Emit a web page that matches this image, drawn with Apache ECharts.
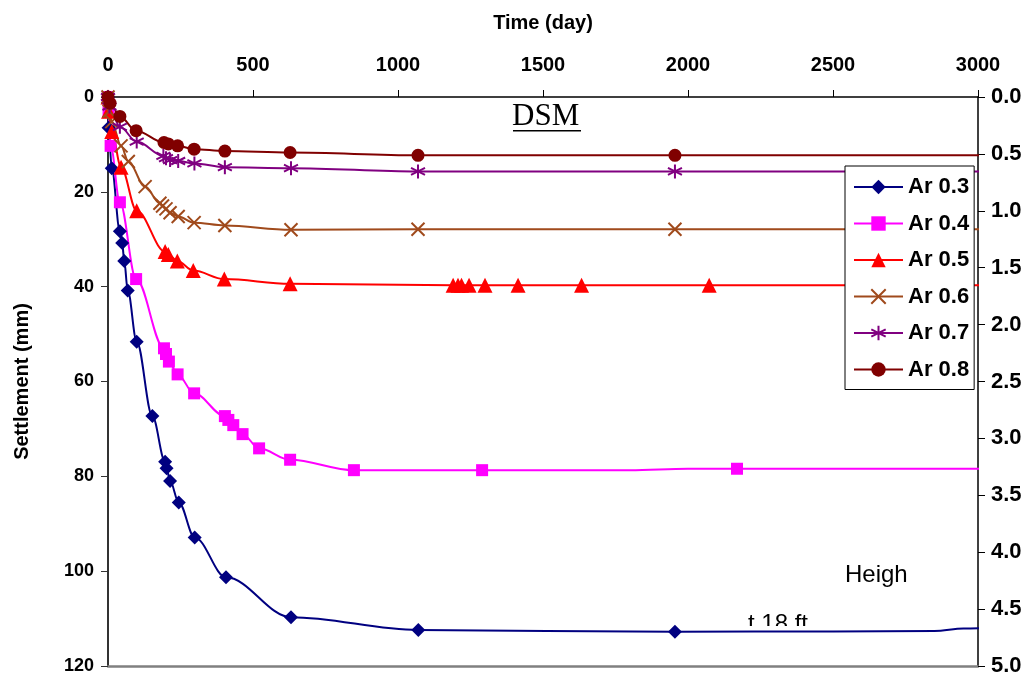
<!DOCTYPE html>
<html>
<head>
<meta charset="utf-8">
<script src="https://cdn.jsdelivr.net/npm/echarts@6/dist/echarts.min.js"></script>
<style>
  html, body { margin: 0; padding: 0; background: #fff; }
  #chart { width: 1033px; height: 681px; }
</style>
</head>
<body>
<div id="chart"></div>
<script>
// Settlement vs time for area replacement ratios Ar 0.3 – 0.8 (DSM columns)
// Measured points [day, settlement mm] – drawn with markers
const ar03 = [[0,0],[2,6.5],[13,15],[41,28.3],[49,30.8],[56,34.6],[68,40.8],[99,51.6],[153,67.3],[197,76.9],[202,78.3],[214,81],[244,85.5],[299,92.9],[407,101.3],[631,109.7],[1070,112.4],[1955,112.8]];
const ar04 = [[0,0],[2,3],[9,10.3],[41,22.2],[97,38.4],[193,53],[200,54.2],[210,55.8],[240,58.5],[297,62.5],[403,67.3],[415,68.1],[432,69.2],[464,71.1],[521,74.1],[628,76.5],[848,78.7],[1290,78.7],[2169,78.4]];
const ar05 = [[0,0],[2,3],[13,7.3],[45,14.8],[99,24],[197,32.6],[208,33.2],[239,34.6],[294,36.6],[401,38.4],[628,39.4],[1190,39.7],[1207,39.7],[1219,39.7],[1245,39.7],[1300,39.7],[1414,39.7],[1633,39.7],[2073,39.7]];
const ar06 = [[0,0],[4,3],[13,5.2],[45,10.3],[70,13.6],[128,18.9],[179,22.4],[188,23],[200,23.6],[214,24.4],[242,25.2],[297,26.5],[403,27.1],[631,28],[1069,27.9],[1955,27.9]];
const ar07 = [[0,0],[5,2],[41,6.3],[99,9.4],[191,12.4],[200,12.9],[214,13.3],[242,13.5],[298,14],[403,14.8],[631,15.0],[1069,15.7],[1955,15.7]];
const ar08 = [[0,0],[7,1.3],[41,4.1],[97,7.1],[193,9.6],[208,9.9],[240,10.3],[297,11.0],[403,11.4],[628,11.7],[1069,12.3],[1955,12.3]];

// Trend-line continuation points (line only, no marker)
const ar03Trend = [[2500,112.7],[2850,112.6],[2950,112.1],[3030,112.0]];
const ar04Trend = [[1800,78.7],[2000,78.4],[3030,78.4]];
const ar05Trend = [[3030,39.7]];
const ar06Trend = [[3030,27.9]];
const ar07Trend = [[3030,15.7]];
const ar08Trend = [[3030,12.3]];

const seriesNames = ['Ar 0.3','Ar 0.4','Ar 0.5','Ar 0.6','Ar 0.7','Ar 0.8'];

// Time axis ticks (days), settlement ticks (mm) and height ticks (ft)
const timeTicks = [0, 500, 1000, 1500, 2000, 2500, 3000];
const settlementTicks = [0, 20, 40, 60, 80, 100, 120];
const heightTicks = [0.0, 0.5, 1.0, 1.5, 2.0, 2.5, 3.0, 3.5, 4.0, 4.5, 5.0];

const FONT = '"Liberation Sans", Arial, sans-serif';

const crossPath = 'path://M0,0L10,10M10,0L0,10';
const starPath = 'path://M5,0L5,10M0.7,2.5L9.3,7.5M0.7,7.5L9.3,2.5';

const styles = [
  { color: '#000080', symbol: 'diamond', size: 14 },
  { color: '#FF00FF', symbol: 'rect', size: 12 },
  { color: '#FF0000', symbol: 'triangle', size: 15 },
  { color: '#A04A1C', symbol: crossPath, size: 13, stroke: true },
  { color: '#800080', symbol: starPath, size: 14, stroke: true },
  { color: '#800000', symbol: 'circle', size: 13 }
];

function merge(points, trend) {
  const all = points.map(p => ({ value: p }))
    .concat(trend.map(p => ({ value: p, symbol: 'none' })));
  all.sort((a, b) => a.value[0] - b.value[0]);
  return all;
}

const dataSets = [
  merge(ar03, ar03Trend), merge(ar04, ar04Trend), merge(ar05, ar05Trend),
  merge(ar06, ar06Trend), merge(ar07, ar07Trend), merge(ar08, ar08Trend)
];

const series = dataSets.map((d, i) => {
  const s = styles[i];
  return {
    name: seriesNames[i],
    type: 'line',
    xAxisIndex: 0,
    yAxisIndex: 0,
    data: d,
    smooth: 0.35,
    smoothMonotone: 'x',
    clip: false,
    symbol: s.symbol,
    symbolSize: s.size,
    showAllSymbol: true,
    color: s.color,
    lineStyle: { color: s.color, width: 2 },
    itemStyle: s.stroke
      ? { color: s.color, borderColor: s.color, borderWidth: 2 }
      : { color: s.color, borderWidth: 0 },
    emphasis: { disabled: true },
    animation: false
  };
});

const tickLabel = { fontFamily: FONT, fontWeight: 'bold', fontSize: 18, color: '#000' };

const chart = echarts.init(document.getElementById('chart'), null, { renderer: 'canvas' });
chart.setOption({
  backgroundColor: '#fff',
  animation: false,
  grid: { left: 108, right: 55, top: 97, bottom: 15 },
  legend: {
    orient: 'vertical',
    left: 845, top: 166,
    itemWidth: 49, itemHeight: 18, itemGap: 14.5,
    padding: [10, 5, 9, 8],
    backgroundColor: '#fff',
    borderColor: '#000', borderWidth: 1, borderRadius: 0,
    textStyle: { fontFamily: FONT, fontWeight: 'bold', fontSize: 22, color: '#000' },
    selectedMode: false,
    data: seriesNames
  },
  xAxis: [
    {
      type: 'value', position: 'top',
      min: timeTicks[0], max: timeTicks[timeTicks.length - 1],
      interval: timeTicks[1] - timeTicks[0],
      name: 'Time (day)', nameLocation: 'middle', nameGap: 64,
      nameTextStyle: { fontFamily: FONT, fontWeight: 'bold', fontSize: 20, color: '#000' },
      axisLine: { show: true, lineStyle: { color: '#000', width: 1.5 } },
      axisTick: { show: true, inside: false, length: 7, lineStyle: { color: '#000' } },
      axisLabel: Object.assign({ margin: 22, formatter: v => String(v) }, tickLabel, { fontSize: 20 }),
      splitLine: { show: false }
    },
    {
      type: 'value', position: 'bottom',
      min: timeTicks[0], max: timeTicks[timeTicks.length - 1],
      axisLine: { show: true, onZero: false, lineStyle: { color: '#808080', width: 2.5 } },
      axisTick: { show: false }, axisLabel: { show: false }, splitLine: { show: false }
    }
  ],
  yAxis: [
    {
      type: 'value', position: 'left', inverse: true,
      min: settlementTicks[0], max: settlementTicks[settlementTicks.length - 1],
      interval: settlementTicks[1] - settlementTicks[0],
      name: 'Settlement (mm)', nameLocation: 'middle', nameRotate: 90, nameGap: 76,
      nameTextStyle: { fontFamily: FONT, fontWeight: 'bold', fontSize: 20, color: '#000' },
      axisLine: { show: true, onZero: false, lineStyle: { color: '#333', width: 2 } },
      axisTick: { show: true, inside: false, length: 7, lineStyle: { color: '#333' } },
      axisLabel: Object.assign({ margin: 14, formatter: v => String(v) }, tickLabel),
      splitLine: { show: false }
    },
    {
      type: 'value', position: 'right', inverse: true,
      min: heightTicks[0], max: heightTicks[heightTicks.length - 1],
      interval: heightTicks[1] - heightTicks[0],
      axisLine: { show: true, onZero: false, lineStyle: { color: '#000', width: 1.5 } },
      axisTick: { show: true, inside: false, length: 7, lineStyle: { color: '#000' } },
      axisLabel: Object.assign({ margin: 13, formatter: v => v.toFixed(1) }, tickLabel, { fontSize: 22 }),
      splitLine: { show: false }
    }
  ],
  graphic: [
    {
      type: 'text', left: 512, top: 101, z: 0,
      style: { text: 'DSM', font: '31px "Liberation Serif", "Times New Roman", serif', fill: '#000' }
    },
    {
      type: 'rect', shape: { x: 513, y: 130, width: 68, height: 1.5 }, z: 0,
      style: { fill: '#000' }
    },
    {
      type: 'text', left: 845, top: 563, z: 0,
      style: { text: 'Heigh', font: '24px "Liberation Sans", Arial, sans-serif', fill: '#000' }
    },
    {
      type: 'text', left: 748, top: 612, z: 0,
      style: { text: 't 18 ft', font: '24px "Liberation Sans", Arial, sans-serif', fill: '#000' }
    },
    {
      // mask the lower half of the wrapped label beneath the Ar 0.3 trend line
      type: 'rect', shape: { x: 740, y: 626, width: 90, height: 16 }, z: 1,
      style: { fill: '#fff' }
    }
  ],
  series: series
});
</script>
</body>
</html>
